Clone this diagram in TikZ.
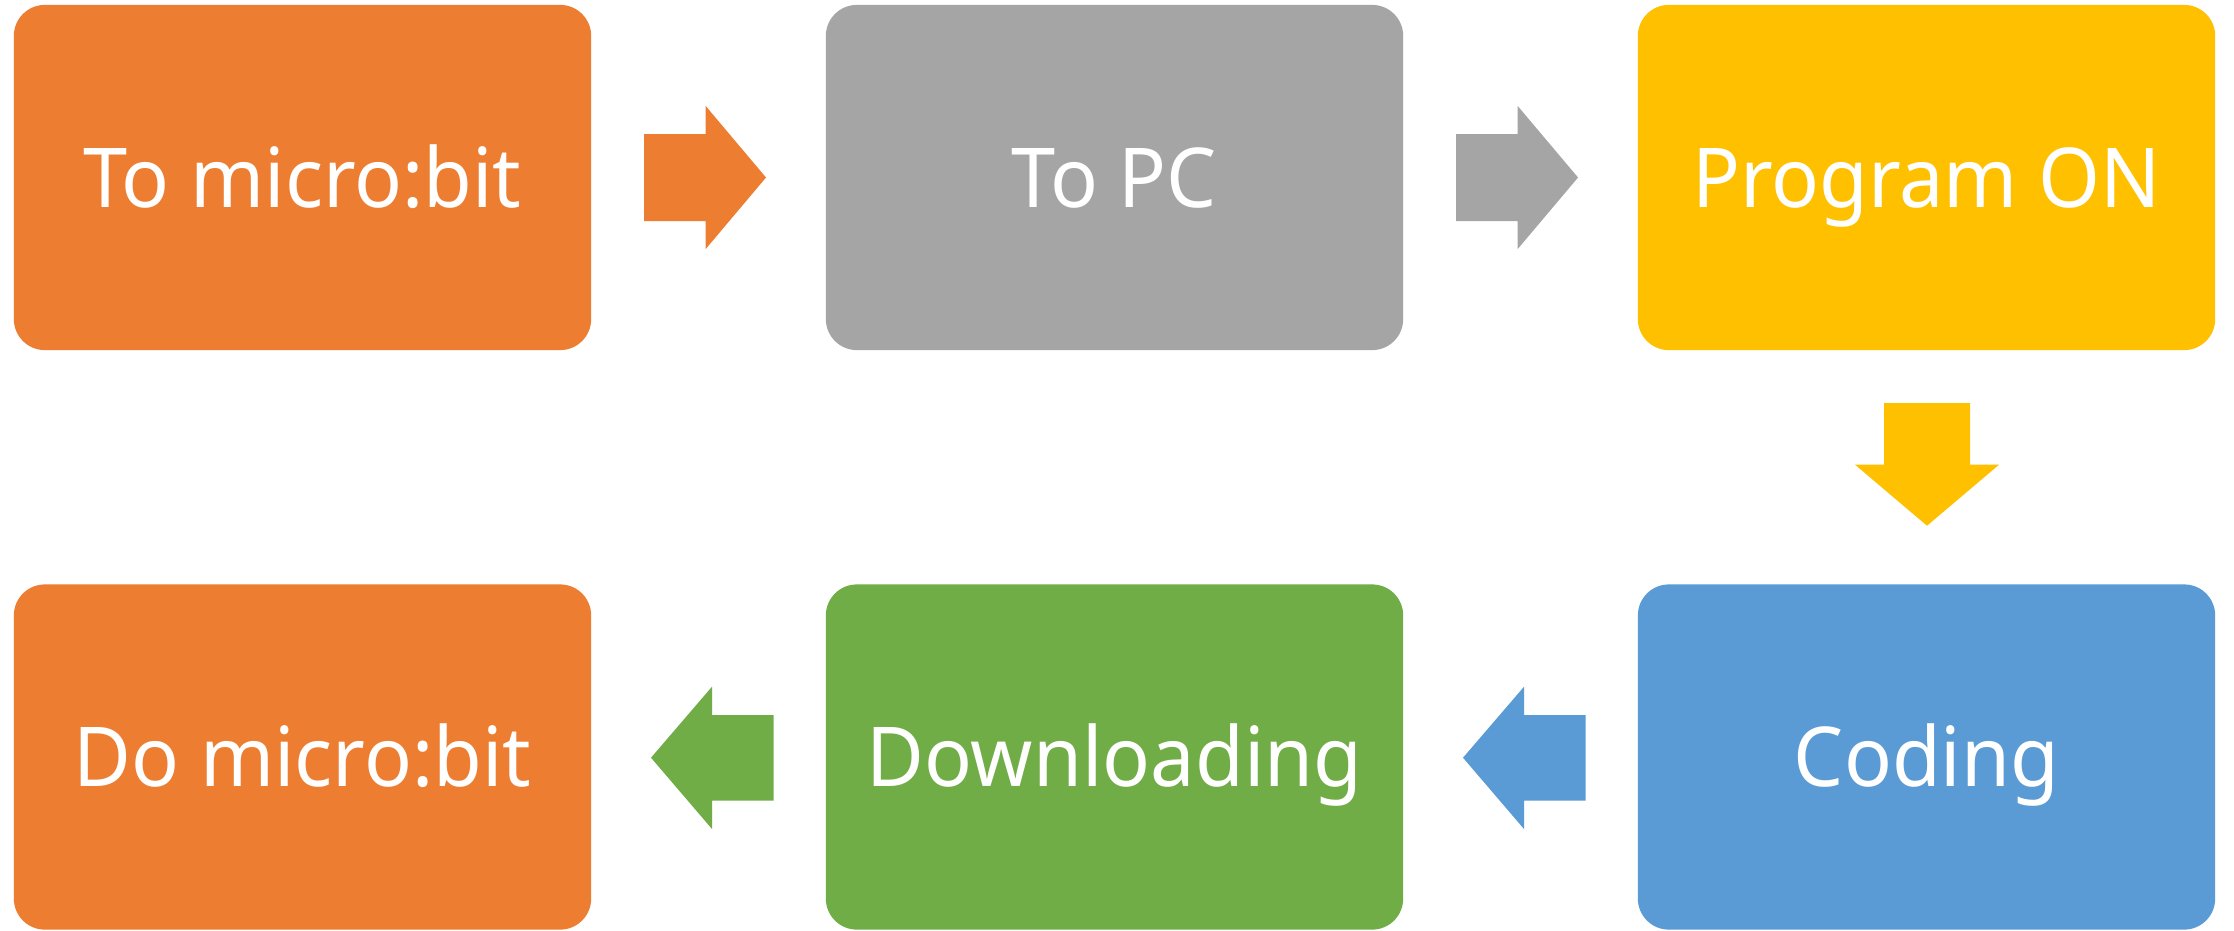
\documentclass[tikz,border=0pt]{standalone}
\usepackage{fontspec}
\setmainfont[FakeStretch=0.96]{Noto Sans}
\definecolor{cOrange}{HTML}{ED7D31}
\definecolor{cGray}{HTML}{A5A5A5}
\definecolor{cYellow}{HTML}{FFC000}
\definecolor{cBlue}{HTML}{5B9BD5}
\definecolor{cGreen}{HTML}{70AD47}
\tikzset{
  stepbox/.style={rectangle, rounded corners=0.31cm, draw=none, minimum width=5.77cm, minimum height=3.45cm,
    inner sep=0pt, text=white, text height=0.59cm, text depth=0pt,
    font=\fontsize{23.5pt}{28pt}\selectfont},
}
\begin{document}
\begin{tikzpicture}[x=0.01cm,y=-0.01cm]
\useasboundingbox[fill=white] (0,0) rectangle (2234,930);
% boxes
\node[stepbox, fill=cOrange] (b1) at (302.5,177.5) {To micro:bit};
\node[stepbox, fill=cGray]   (b2) at (1114.5,177.5) {To PC};
\node[stepbox, fill=cYellow] (b3) at (1926.5,177.5) {Program ON};
\node[stepbox, fill=cBlue]   (b4) at (1926.5,757) {Coding};
\node[stepbox, fill=cGreen]  (b5) at (1114.5,757) {Downloading};
\node[stepbox, fill=cOrange] (b6) at (302.5,757) {Do micro:bit};
% block arrows
\fill[cOrange] (644,134) -- (705.7,134) -- (705.7,106) -- (766,177.5) -- (705.7,249) -- (705.7,221) -- (644,221) -- cycle;
\fill[cGray] (1456,134) -- (1517.7,134) -- (1517.7,106) -- (1578,177.5) -- (1517.7,249) -- (1517.7,221) -- (1456,221) -- cycle;
\fill[cYellow] (1884,403) -- (1970,403) -- (1970,464.7) -- (1999,464.7) -- (1927,525.7) -- (1855,464.7) -- (1884,464.7) -- cycle;
\fill[cBlue] (1585.7,715) -- (1524,715) -- (1524,686.7) -- (1463,757.7) -- (1524,829) -- (1524,800.7) -- (1585.7,800.7) -- cycle;
\fill[cGreen] (773.7,715) -- (712,715) -- (712,686.7) -- (651,757.7) -- (712,829) -- (712,800.7) -- (773.7,800.7) -- cycle;
\end{tikzpicture}
\end{document}
